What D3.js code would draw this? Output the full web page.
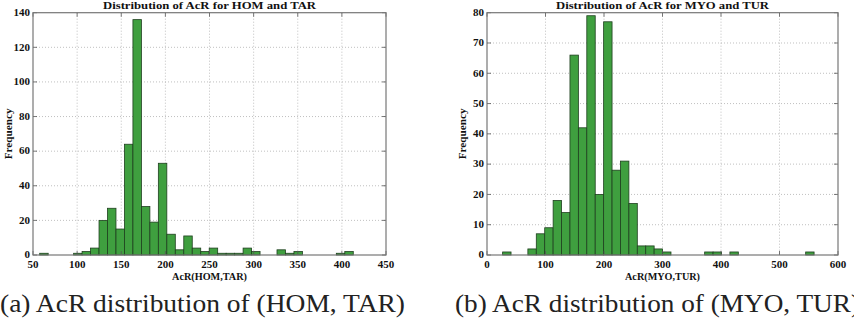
<!DOCTYPE html>
<html><head><meta charset="utf-8">
<script src="https://cdn.jsdelivr.net/npm/d3@7"></script>
<style>
html,body{margin:0;padding:0;background:#fff;}
svg{display:block;}
text{font-family:"DejaVu Serif","Liberation Serif",serif;}
</style></head>
<body>
<svg id="chart" width="854" height="327"></svg>
<script>
// ---- data ----
const leftCounts = [1,0,0,0,1,2,4,20,27,15,64,136,28,19,53,12,3,11,4,2,4,1,1,1,4,2,0,0,3,1,2,0,0,0,0,1,2];
const leftBinStart = 57.6, leftBinWidth = 9.603;
const leftXTicks = [50,100,150,200,250,300,350,400,450];
const leftYTicks = [0,20,40,60,80,100,120,140];

const rightCounts = [1,0,0,2,7,9,18,14,66,42,79,20,77,28,31,17,3,3,2,1,0,0,0,0,1,1,0,1,0,0,0,0,0,0,0,0,1];
const rightBinStart = 26.7, rightBinWidth = 14.39;
const rightXTicks = [0,100,200,300,400,500,600];
const rightYTicks = [0,10,20,30,40,50,60,70,80];

const panels = [
  {counts:leftCounts, start:leftBinStart, width:leftBinWidth, xTicks:leftXTicks, yTicks:leftYTicks,
   title:"Distribution of AcR for HOM and TAR", xlabel:"AcR(HOM,TAR)",
   caption:"(a) AcR distribution of (HOM, TAR)", x0:33, x1:386, capX:0},
  {counts:rightCounts, start:rightBinStart, width:rightBinWidth, xTicks:rightXTicks, yTicks:rightYTicks,
   title:"Distribution of AcR for MYO and TUR", xlabel:"AcR(MYO,TUR)",
   caption:"(b) AcR distribution of (MYO, TUR)", x0:487, x1:838, capX:455}
];

const svg = d3.select("#chart");
const plotTop = 12.7, plotBottom = 255;
const serifFam = '"Liberation Serif", "DejaVu Serif", serif';

panels.forEach(p => {
  const x = d3.scaleLinear().domain([p.xTicks[0], p.xTicks[p.xTicks.length-1]]).range([p.x0, p.x1]);
  const y = d3.scaleLinear().domain([p.yTicks[0], p.yTicks[p.yTicks.length-1]]).range([plotBottom, plotTop]);
  const g = svg.append("g");

  // grid
  const grid = g.append("g").attr("stroke","#b0b0b0").attr("stroke-width",0.8).attr("stroke-dasharray","1,2");
  p.xTicks.slice(1,-1).forEach(t => grid.append("line").attr("x1",x(t)).attr("x2",x(t)).attr("y1",plotTop).attr("y2",plotBottom));
  p.yTicks.slice(1,-1).forEach(t => grid.append("line").attr("x1",p.x0).attr("x2",p.x1).attr("y1",y(t)).attr("y2",y(t)));

  // bars
  const bins = p.counts.map((c,i) => ({x0:p.start + i*p.width, x1:p.start + (i+1)*p.width, c}));
  g.append("g").selectAll("rect").data(bins.filter(b => b.c > 0)).join("rect")
    .attr("x", d => x(d.x0)).attr("width", d => x(d.x1) - x(d.x0))
    .attr("y", d => y(d.c)).attr("height", d => y(0) - y(d.c))
    .attr("fill","#3f9f3f").attr("stroke","#1f3f1f").attr("stroke-width",0.8);

  // ticks (inside)
  const tk = g.append("g").attr("stroke","#555").attr("stroke-width",0.8);
  p.xTicks.forEach(t => {
    tk.append("line").attr("x1",x(t)).attr("x2",x(t)).attr("y1",plotBottom).attr("y2",plotBottom-4);
    tk.append("line").attr("x1",x(t)).attr("x2",x(t)).attr("y1",plotTop).attr("y2",plotTop+4);
  });
  p.yTicks.forEach(t => {
    tk.append("line").attr("x1",p.x0).attr("x2",p.x0+4).attr("y1",y(t)).attr("y2",y(t));
    tk.append("line").attr("x1",p.x1).attr("x2",p.x1-4).attr("y1",y(t)).attr("y2",y(t));
  });

  // frame
  g.append("rect").attr("x",p.x0).attr("y",plotTop).attr("width",p.x1-p.x0).attr("height",plotBottom-plotTop)
    .attr("fill","none").attr("stroke","#777").attr("stroke-width",1.2);

  // tick labels
  g.append("g").selectAll("text").data(p.xTicks).join("text")
    .attr("x", d => x(d)).attr("y", 267.5).attr("text-anchor","middle")
    .style("font-family",serifFam).attr("font-weight","bold").attr("font-size",11).attr("fill","#111")
    .text(d => d);
  g.append("g").selectAll("text").data(p.yTicks).join("text")
    .attr("x", p.x0 - 3).attr("y", d => y(d)).attr("dy","0.3em").attr("text-anchor","end")
    .style("font-family",serifFam).attr("font-weight","bold").attr("font-size",11).attr("fill","#111")
    .text(d => d);

  const cx = (p.x0 + p.x1)/2;
  // title
  g.append("text").attr("x",cx).attr("y",9).attr("text-anchor","middle")
    .style("font-family",serifFam).attr("font-weight","bold").attr("font-size",10.5)
    .attr("textLength",213).attr("lengthAdjust","spacingAndGlyphs").attr("fill","#111")
    .text(p.title);
  // x label
  g.append("text").attr("x",cx).attr("y",279.5).attr("text-anchor","middle")
    .style("font-family",serifFam).attr("font-weight","bold").attr("font-size",10.5)
    .attr("textLength",75).attr("lengthAdjust","spacingAndGlyphs").attr("fill","#111")
    .text(p.xlabel);
  // y label
  g.append("text").attr("transform",`translate(${p.x0-21},${(plotTop+plotBottom)/2}) rotate(-90)`)
    .attr("text-anchor","middle").style("font-family",serifFam).attr("font-weight","bold").attr("font-size",10.5)
    .attr("textLength",51).attr("lengthAdjust","spacingAndGlyphs").attr("fill","#111")
    .text("Frequency");
  // caption
  g.append("text").attr("x",p.capX).attr("y",312)
    .style("font-family",serifFam).attr("font-size",24.5)
    .attr("textLength",405).attr("lengthAdjust","spacingAndGlyphs").attr("fill","#222")
    .text(p.caption);
});
</script>
</body></html>
